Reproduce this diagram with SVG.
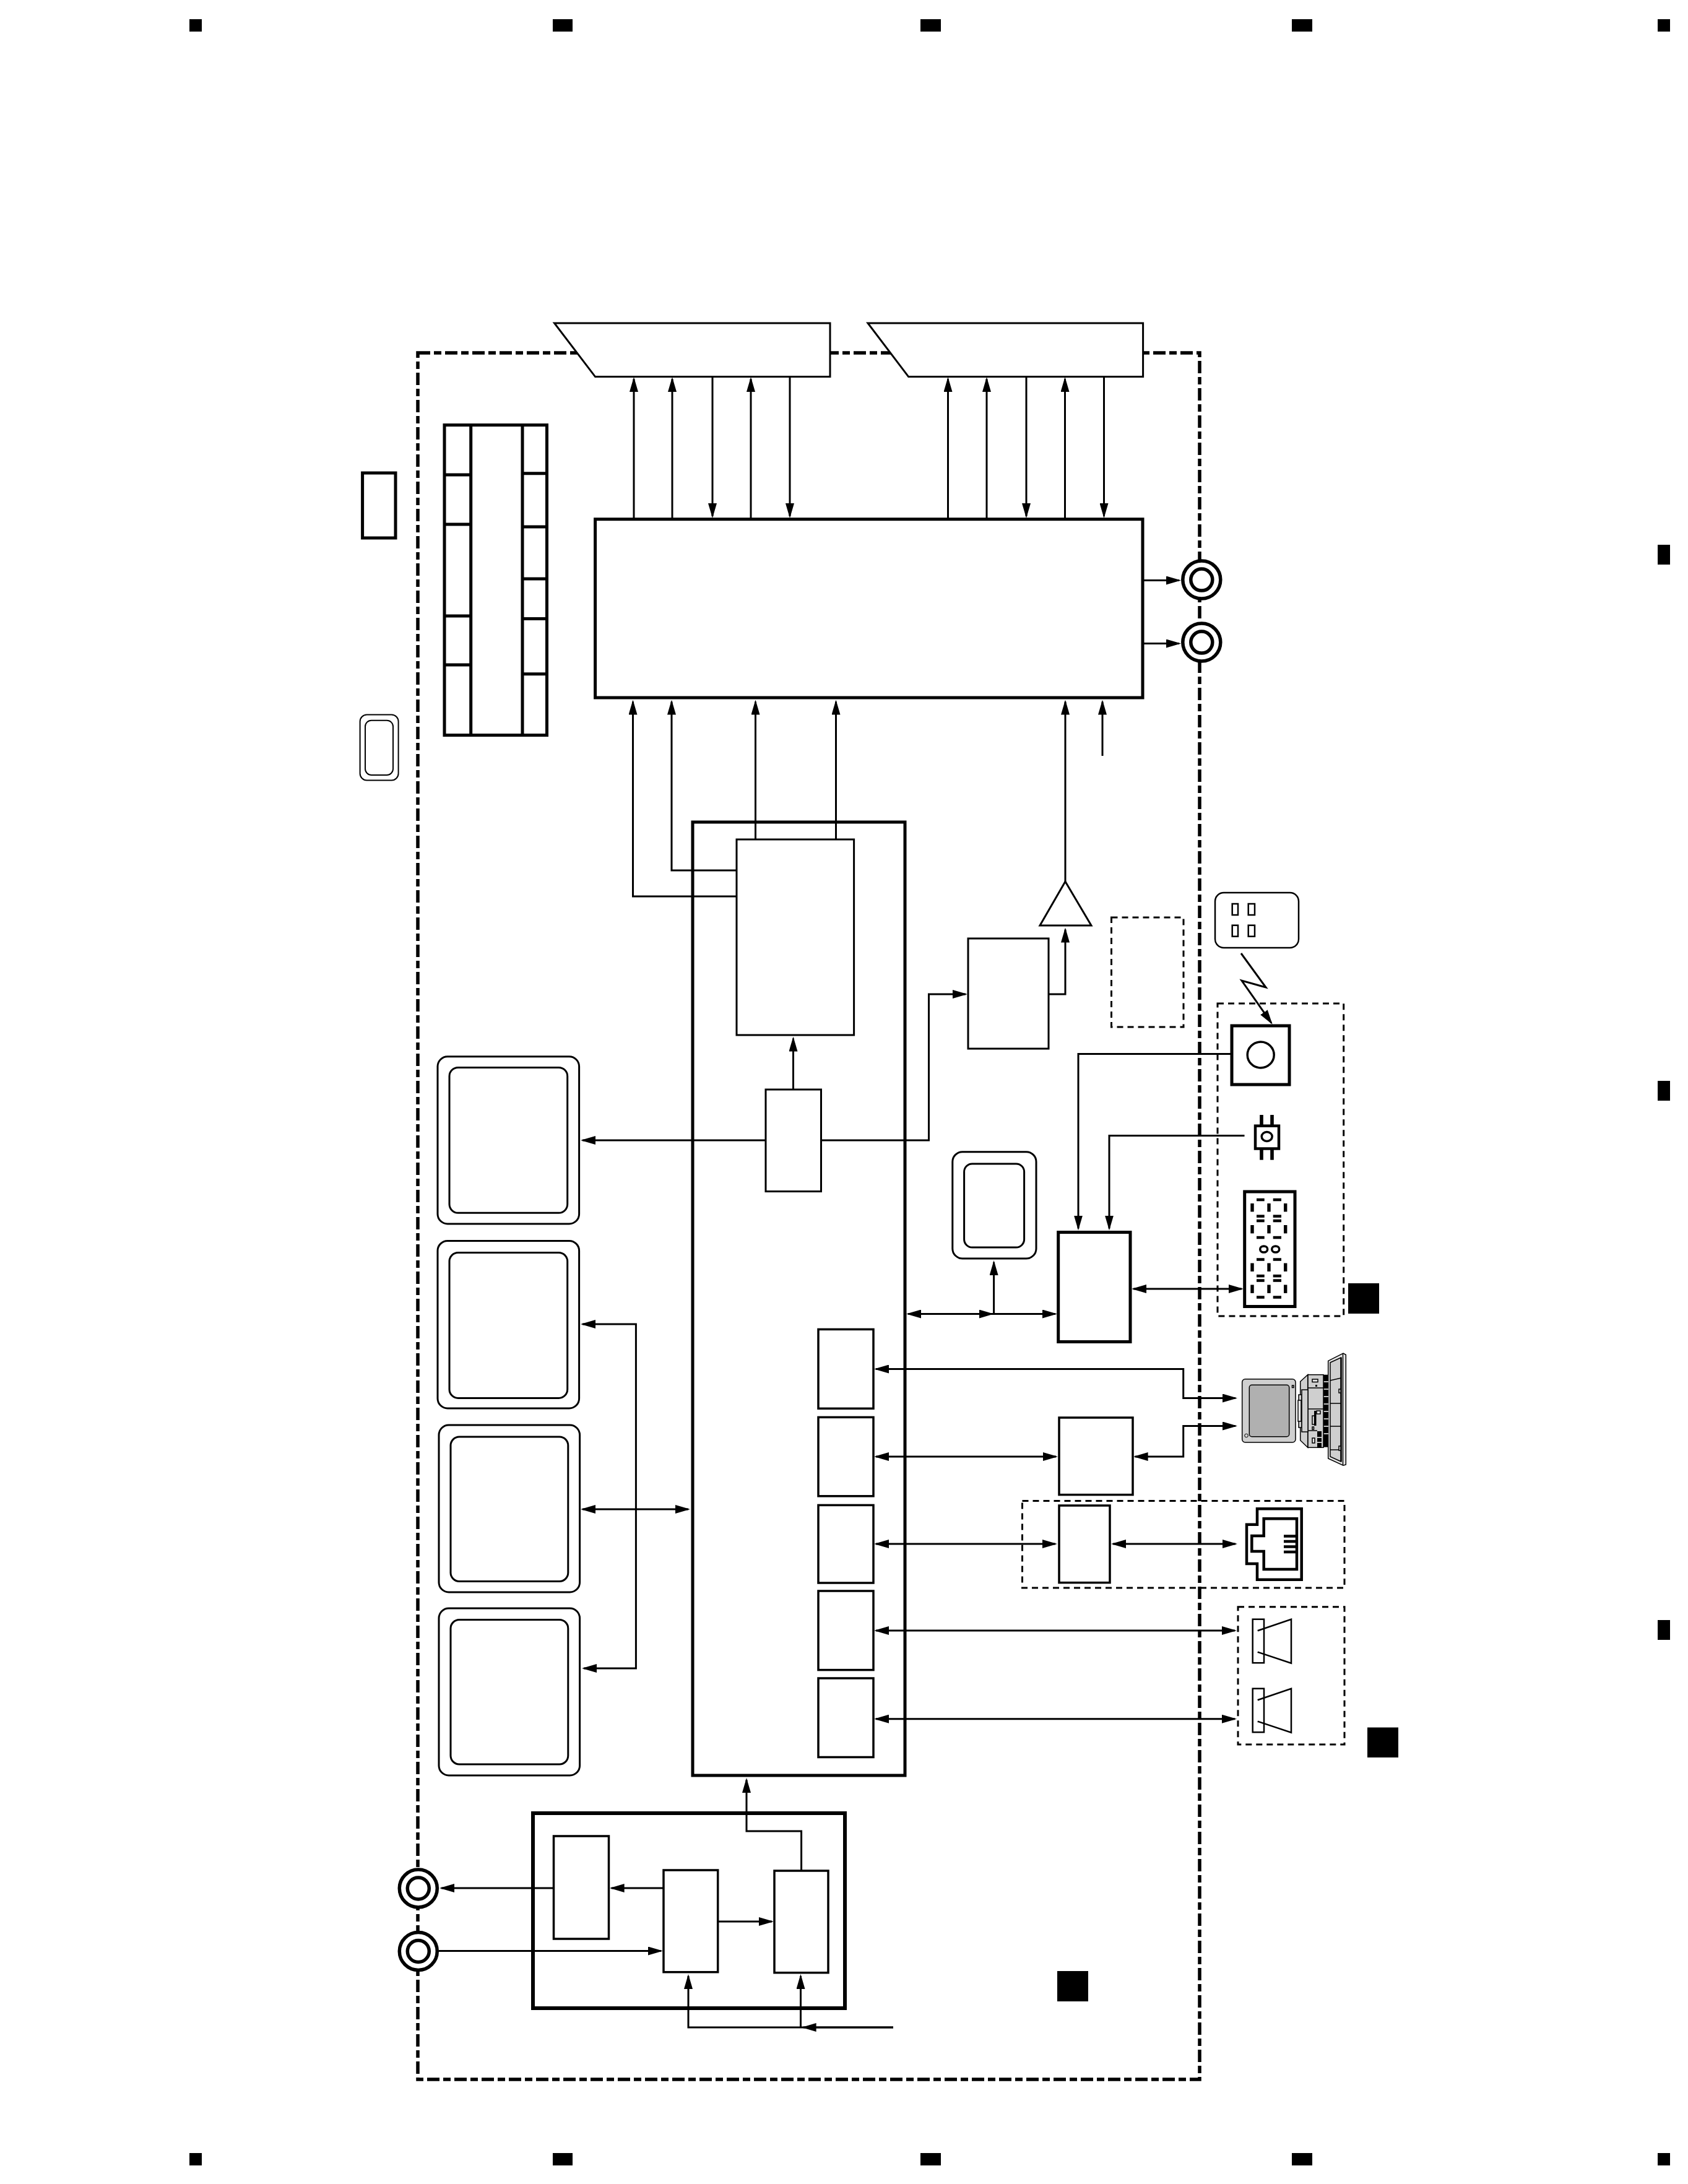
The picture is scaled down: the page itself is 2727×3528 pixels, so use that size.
<svg xmlns="http://www.w3.org/2000/svg" width="2727" height="3528" viewBox="0 0 2727 3528">
<style>
  rect, path, ellipse, polygon { stroke-linejoin: miter; }
  .bg { fill: #fff; }
  .frame { fill: none; stroke: #000; stroke-width: 5.5; stroke-dasharray: 20 6 12 6; }
  .dash { fill: none; stroke: #000; stroke-width: 3; stroke-dasharray: 10 7; }
  .thick { fill: #fff; stroke: #000; stroke-width: 5; }
  .box { fill: #fff; stroke: #000; stroke-width: 3.5; }
  .thin { fill: #fff; stroke: #000; stroke-width: 3; }
  .hair { fill: none; stroke: #000; stroke-width: 2; }
  .key { fill: none; stroke: #000; stroke-width: 2.5; }
  .dot { fill: none; stroke: #000; stroke-width: 3.5; }
  .seg { fill: #000; stroke: none; }
  .wire { fill: none; stroke: #000; stroke-width: 3; }
  .to { marker-end: url(#head); }
  .both { marker-start: url(#head); marker-end: url(#head); }
  .ring { fill: #fff; stroke: #000; stroke-width: 5.5; }
  .grey { fill: #cfcfcf; stroke: #000; stroke-width: 1.5; }
  .pale { fill: #e6e6e6; stroke: #000; stroke-width: 1.5; }
  .vent { fill: none; stroke: #fff; stroke-width: 1.5; }
  .rule { fill: none; stroke: #000; stroke-width: 1.5; }
</style>
<defs>
  <marker id="head" markerUnits="userSpaceOnUse" viewBox="0 0 24 14" refX="21" refY="7" markerWidth="24" markerHeight="14" orient="auto-start-reverse">
    <polygon points="0,0 24,7 0,14" fill="#000"/>
  </marker>
  <g id="jack">
    <ellipse class="ring" cx="0" cy="0" rx="30.5" ry="30.5"/>
    <ellipse class="ring" cx="0" cy="0" rx="17.5" ry="17.5"/>
  </g>
  <g id="speaker">
    <rect x="2023.7" y="0" width="18.3" height="70.5" fill="none" stroke="#000" stroke-width="2.5"/>
    <path d="M2031.7 18.5 L2086 0 V71 L2031.7 53" fill="none" stroke="#000" stroke-width="2.5"/>
  </g>
  <g id="digit">
    <rect class="seg" x="2030" y="-2.2" width="12.7" height="4.5"/>
    <rect class="seg" x="2056.7" y="-2.2" width="13.3" height="4.5"/>
    <rect class="seg" x="2030" y="24.4" width="12.7" height="4.5"/>
    <rect class="seg" x="2056.7" y="24.4" width="13.3" height="4.5"/>
    <rect class="seg" x="2030" y="31.8" width="12.7" height="4.5"/>
    <rect class="seg" x="2056.7" y="31.8" width="13.3" height="4.5"/>
    <rect class="seg" x="2030" y="58.8" width="12.7" height="4.5"/>
    <rect class="seg" x="2056.7" y="58.8" width="13.3" height="4.5"/>
    <rect class="seg" x="2020.3" y="6" width="5.4" height="13.4"/>
    <rect class="seg" x="2047.3" y="6" width="5.4" height="13.4"/>
    <rect class="seg" x="2074" y="6" width="5.4" height="13.4"/>
    <rect class="seg" x="2020.3" y="41" width="5.4" height="13.4"/>
    <rect class="seg" x="2047.3" y="41" width="5.4" height="13.4"/>
    <rect class="seg" x="2074" y="41" width="5.4" height="13.4"/>
  </g>
</defs>

<rect class="bg" x="0" y="0" width="2727" height="3528"/>

<!-- crop and section marks -->
<g id="marks" fill="#000">
  <rect x="306" y="31" width="20" height="20"/>
  <rect x="893" y="31" width="32" height="20"/>
  <rect x="1487" y="31" width="33" height="20"/>
  <rect x="2087" y="31" width="33" height="20"/>
  <rect x="2678" y="31" width="20" height="20"/>
  <rect x="306" y="3478" width="20" height="20"/>
  <rect x="893" y="3478" width="32" height="20"/>
  <rect x="1487" y="3478" width="33" height="20"/>
  <rect x="2087" y="3478" width="33" height="20"/>
  <rect x="2678" y="3478" width="20" height="20"/>
  <rect x="2678" y="880" width="20" height="32"/>
  <rect x="2678" y="1746" width="20" height="32"/>
  <rect x="2678" y="2617" width="20" height="32"/>
  <rect x="2178" y="2073" width="50" height="49"/>
  <rect x="2209" y="2790.5" width="50" height="48.5"/>
  <rect x="1708" y="3184" width="50" height="49"/>
</g>

<!-- unit outline and dashed sub-assemblies -->
<g id="outlines">
  <rect class="frame" x="675" y="570" width="1263" height="2789"/>
  <rect class="dash" x="1795.5" y="1482" width="116.5" height="177"/>
  <rect class="dash" x="1967" y="1621" width="203.7" height="505"/>
  <rect class="dash" x="1651.5" y="2424.5" width="520.5" height="140.5"/>
  <rect class="dash" x="2000" y="2595.7" width="172" height="222.3"/>
</g>

<g id="drive-a"><polygon class="thin" points="895.6,522 1341,522 1341,608.6 961.6,608.6"/></g>
<g id="drive-b"><polygon class="thin" points="1402,522 1846.6,522 1846.6,608.6 1467.7,608.6"/></g>

<g id="board-connector">
  <rect class="thick" x="718" y="686.6" width="165.5" height="501"/>
  <path class="thick" d="M760.7 686.6 V1187.6 M844 686.6 V1187.6"/>
  <path class="thick" d="M718 767 H760.7 M718 847 H760.7 M718 995 H760.7 M718 1074 H760.7"/>
  <path class="thick" d="M844 764.7 H883.5 M844 851 H883.5 M844 935 H883.5 M844 999.4 H883.5 M844 1088.7 H883.5"/>
</g>
<g id="side-box"><rect class="thick" x="585.6" y="764" width="53.4" height="105"/></g>
<g id="side-memory">
  <rect class="hair" x="581.6" y="1154.5" width="62" height="106" rx="11"/>
  <rect class="hair" x="590" y="1163.7" width="45" height="88.3" rx="10"/>
</g>

<g id="main-processor"><rect class="thick" x="961.6" y="838.7" width="884.4" height="288.3"/></g>
<g id="out-jack-1"><use href="#jack" x="1941.3" y="936.6"/></g>
<g id="out-jack-2"><use href="#jack" x="1941.3" y="1037.6"/></g>

<g id="system-chip">
  <rect class="thick" x="1119" y="1328" width="343" height="1540"/>
</g>
<g id="block-a"><rect class="thin" x="1190" y="1356" width="189.6" height="316"/></g>
<g id="block-b"><rect class="thin" x="1237" y="1760" width="89.5" height="164.6"/></g>
<g id="block-c"><rect class="thin" x="1564" y="1516" width="130" height="178"/></g>
<g id="buffer"><polygon class="thin" points="1721,1424 1763,1495 1680,1495"/></g>

<g id="monitor-1">
  <rect class="thin" x="707" y="1706.8" width="228.6" height="270.2" rx="16"/>
  <rect class="thin" x="726" y="1724.4" width="190.7" height="234.9" rx="14"/>
</g>
<g id="monitor-2">
  <rect class="thin" x="707" y="2004.4" width="228.6" height="270.6" rx="16"/>
  <rect class="thin" x="726" y="2023.5" width="190.7" height="234.9" rx="14"/>
</g>
<g id="monitor-3">
  <rect class="thin" x="709" y="2302" width="227.6" height="270" rx="16"/>
  <rect class="thin" x="728" y="2321" width="189.8" height="233.5" rx="14"/>
</g>
<g id="monitor-4">
  <rect class="thin" x="709" y="2598" width="227.6" height="270" rx="16"/>
  <rect class="thin" x="728" y="2616.5" width="189.8" height="233.5" rx="14"/>
</g>
<g id="small-memory">
  <rect class="thin" x="1538.8" y="1860.7" width="135.2" height="172.3" rx="16"/>
  <rect class="thin" x="1557.6" y="1880" width="97" height="135" rx="13"/>
</g>

<g id="port-1"><rect class="box" x="1322" y="2147.4" width="89" height="127.9"/></g>
<g id="port-2"><rect class="box" x="1322" y="2289.4" width="89" height="127.4"/></g>
<g id="port-3"><rect class="box" x="1322" y="2431.4" width="89" height="125.6"/></g>
<g id="port-4"><rect class="box" x="1322" y="2570" width="89" height="127.6"/></g>
<g id="port-5"><rect class="box" x="1322" y="2711" width="89" height="127.5"/></g>

<g id="controller"><rect class="thick" x="1709.7" y="1990.6" width="116.3" height="176.9"/></g>
<g id="block-d"><rect class="box" x="1711" y="2290" width="119" height="124.6"/></g>
<g id="block-e"><rect class="box" x="1711" y="2432" width="82" height="124.6"/></g>

<g id="remote">
  <rect fill="#fff" stroke="#000" stroke-width="2.5" x="1963" y="1442" width="135" height="89" rx="14"/>
  <rect class="key" x="1990.7" y="1460" width="9.3" height="18"/>
  <rect class="key" x="2016.7" y="1460" width="10.3" height="18"/>
  <rect class="key" x="1990.7" y="1494.7" width="9.3" height="18"/>
  <rect class="key" x="2016.7" y="1494.7" width="10.3" height="18"/>
</g>
<g id="ir-sensor">
  <rect class="thick" x="1990" y="1657" width="93" height="95"/>
  <ellipse class="dot" cx="2036.7" cy="1704" rx="21.5" ry="21"/>
</g>
<g id="switch">
  <rect class="seg" x="2035.2" y="1801" width="5.6" height="72.7"/>
  <rect class="seg" x="2052.2" y="1801" width="5.6" height="72.7"/>
  <rect fill="#fff" stroke="#000" stroke-width="4.5" x="2028" y="1818.7" width="38" height="36.8"/>
  <ellipse class="dot" cx="2046.7" cy="1836" rx="8.5" ry="7.5"/>
</g>
<g id="display">
  <rect class="thick" x="2010.7" y="1925" width="81.3" height="185.5"/>
  <use href="#digit" x="0" y="1938"/>
  <use href="#digit" x="0" y="2034.5"/>
  <ellipse class="dot" cx="2041.7" cy="2018" rx="6" ry="5"/>
  <ellipse class="dot" cx="2060.7" cy="2018" rx="6" ry="5"/>
</g>

<g id="computer">
  <polygon class="pale" points="2145.7,2198.3 2170,2186 2174.3,2188.5 2174.3,2366 2170,2367.3 2145.7,2356"/>
  <path class="rule" d="M2169.5 2186.5 V2367"/>
  <polygon class="grey" points="2149,2201 2166.5,2193 2166.5,2361 2149,2353"/>
  <path class="rule" d="M2149 2230 L2166.5 2226 M2149 2267 H2166.5 M2149 2304 H2166.5 M2149 2342 H2166.5"/>
  <path fill="none" stroke="#000" stroke-width="2.5" d="M2166.5 2193 V2361"/>
  <rect class="pale" x="2163" y="2244" width="3" height="6"/>
  <rect class="pale" x="2163" y="2336" width="3" height="7"/>
  <rect class="seg" x="2138" y="2220.7" width="7.7" height="117"/>
  <path class="vent" d="M2138 2232 H2146 M2138 2244 H2146 M2138 2256 H2146 M2138 2268 H2146 M2138 2280 H2146 M2138 2292 H2146 M2138 2304 H2146 M2138 2316 H2146"/>
  <polygon class="grey" points="2100.7,2231.7 2112.7,2220.7 2112.7,2338.3 2100.7,2326.7"/>
  <rect class="grey" x="2113" y="2220.7" width="25" height="117.6"/>
  <rect class="seg" x="2128" y="2312" width="7" height="26"/>
  <path class="vent" d="M2128 2322 H2135 M2128 2330 H2135"/>
  <path class="rule" d="M2113 2242 H2138 M2114 2276 H2138 M2114 2311 H2128"/>
  <rect class="pale" x="2120" y="2228" width="9" height="4.5"/>
  <rect class="seg" x="2125" y="2237" width="3" height="3"/>
  <rect class="pale" x="2127" y="2279" width="6" height="5"/>
  <rect class="seg" x="2123" y="2279" width="3.5" height="24"/>
  <rect class="pale" x="2120" y="2287" width="3.5" height="14"/>
  <rect class="pale" x="2120" y="2305" width="2.5" height="4"/>
  <rect class="pale" x="2120" y="2323" width="4" height="8"/>
  <rect class="grey" x="2098" y="2253" width="5" height="53"/>
  <rect class="grey" x="2103" y="2245" width="10" height="68"/>
  <rect class="pale" x="2097" y="2262" width="5" height="34"/>
  <rect class="grey" x="2006.7" y="2227.7" width="86.3" height="102.3" rx="5"/>
  <rect fill="#b0b0b0" stroke="#000" stroke-width="1.5" x="2018.3" y="2237.3" width="64.4" height="83.4" rx="4"/>
  <rect class="pale" x="2087.5" y="2238" width="2.5" height="3.5"/>
  <circle fill="none" stroke="#000" stroke-width="1" cx="2013.5" cy="2319" r="2.8"/>
</g>

<g id="network-jack">
  <path fill="none" stroke="#000" stroke-width="4.5" d="M2031 2437.3 H2102.7 V2551.7 H2031 V2526 H2014 V2462.7 H2031 Z"/>
  <path fill="none" stroke="#000" stroke-width="4.5" d="M2041.7 2453.3 H2095 V2535 H2041.7 V2506 H2022.3 V2481 H2041.7 Z"/>
  <path fill="none" stroke="#000" stroke-width="4.5" d="M2074 2481.5 H2093 M2074 2490 H2093 M2074 2498.5 H2093 M2074 2507 H2093"/>
</g>
<g id="speaker-1"><use href="#speaker" x="0" y="2615.7"/></g>
<g id="speaker-2"><use href="#speaker" x="0" y="2727.7"/></g>

<g id="power-unit"><rect fill="none" stroke="#000" stroke-width="6" x="861" y="2929" width="504" height="315"/></g>
<g id="power-a"><rect class="box" x="894.5" y="2966" width="89" height="166"/></g>
<g id="power-b"><rect class="box" x="1072" y="3021" width="87.7" height="164.7"/></g>
<g id="power-c"><rect class="box" x="1251" y="3022" width="87" height="164.7"/></g>
<g id="power-jack-1"><use href="#jack" x="675.8" y="3050.5"/></g>
<g id="power-jack-2"><use href="#jack" x="675.8" y="3152"/></g>

<g id="connectors">
  <!-- drive buses -->
  <path class="wire to" d="M1024 838 V612"/>
  <path class="wire to" d="M1086 838 V612"/>
  <path class="wire to" d="M1151 609 V834"/>
  <path class="wire to" d="M1213 838 V612"/>
  <path class="wire to" d="M1276 609 V834"/>
  <path class="wire to" d="M1531.5 838 V612"/>
  <path class="wire to" d="M1594 838 V612"/>
  <path class="wire to" d="M1658 609 V834"/>
  <path class="wire to" d="M1720.5 838 V612"/>
  <path class="wire to" d="M1783.5 609 V834"/>
  <!-- inputs of the main processor -->
  <path class="wire to" d="M1190 1448 H1022.5 V1133.5"/>
  <path class="wire to" d="M1190 1406 H1085 V1133.5"/>
  <path class="wire to" d="M1220.5 1356 V1133.5"/>
  <path class="wire to" d="M1350.5 1356 V1133.5"/>
  <path class="wire to" d="M1721 1424 V1133.5"/>
  <path class="wire to" d="M1781 1221 V1133.5"/>
  <!-- main processor outputs -->
  <path class="wire to" d="M1846 937.5 H1905"/>
  <path class="wire to" d="M1846 1039.5 H1905"/>
  <!-- video path -->
  <path class="wire to" d="M1281.5 1760 V1677.5"/>
  <path class="wire to" d="M1237 1842 H941"/>
  <path class="wire to" d="M1326.5 1842 H1500.5 V1606 H1560"/>
  <path class="wire to" d="M1694 1606 H1721 V1501.5"/>
  <!-- front panel -->
  <path class="wire to" d="M1990 1702.5 H1742 V1984.5"/>
  <path class="wire to" d="M2010.5 1834.5 H1792 V1984.5"/>
  <path class="wire both" d="M1467 2122.5 H1705"/>
  <path class="wire to" d="M1580 2122.5 H1602.6"/>
  <path class="wire to" d="M1605.6 2122.5 V2039"/>
  <path class="wire both" d="M1831 2082 H2006"/>
  <path class="wire to" d="M2005 1540 L2045 1595 L2006 1584 L2054 1652.5"/>
  <!-- external ports -->
  <path class="wire both" d="M1415 2211.5 H1911.7 V2258.5 H1996"/>
  <path class="wire both" d="M1415 2353 H1706"/>
  <path class="wire both" d="M1833.6 2353 H1911.7 V2303.5 H1996"/>
  <path class="wire both" d="M1415 2494 H1705"/>
  <path class="wire both" d="M1798 2494 H1996"/>
  <path class="wire both" d="M1415 2634 H1995"/>
  <path class="wire both" d="M1415 2776.7 H1995"/>
  <!-- memory bus -->
  <path class="wire both" d="M941 2139 H1027.4 V2695 H943"/>
  <path class="wire both" d="M941 2438 H1112"/>
  <!-- power unit -->
  <path class="wire to" d="M1294.6 3022 V2958 H1206 V2875"/>
  <path class="wire to" d="M894.5 3050 H713"/>
  <path class="wire to" d="M1072 3050 H987.6"/>
  <path class="wire to" d="M1160 3104 H1247"/>
  <path class="wire to" d="M709 3151.5 H1068"/>
  <path class="wire to" d="M1443 3275 H1112 V3192"/>
  <path class="wire to" d="M1443 3275 H1297.6"/>
  <path class="wire to" d="M1293.5 3275 V3192"/>
</g>
</svg>
